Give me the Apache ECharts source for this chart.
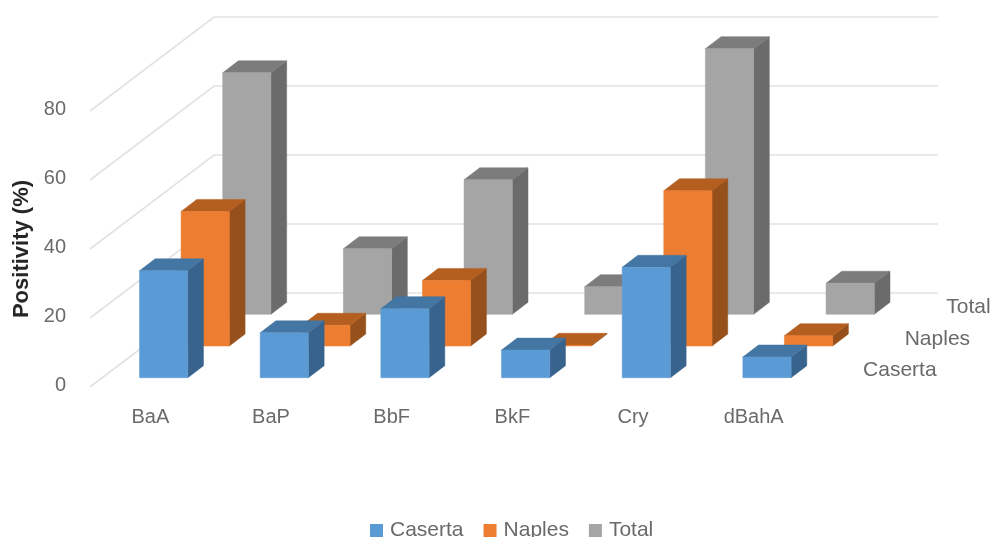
<!DOCTYPE html>
<html>
<head>
<meta charset="utf-8">
<style>html,body{margin:0;padding:0;background:#fff}#chart{width:996px;height:537px}</style>
<script src="https://cdn.jsdelivr.net/npm/echarts@6/dist/echarts.min.js"></script>
</head>
<body>
<div id="chart"></div>
<script>
// Pollutant positivity by area, drawn as a pseudo-3D clustered column chart.
const categories = ['BaA', 'BaP', 'BbF', 'BkF', 'Cry', 'dBahA'];
const caserta = [31, 13, 20, 8, 32, 6];
const naples = [39, 6, 19, 0.2, 45, 3];
const total = [70, 19, 39, 8, 77, 9];
const yTicks = [0, 20, 40, 60, 80];

// Oblique projection of the depth axis, in pixels.
const WALL_DEPTH = [124, -94];
const ROW_START = [13.3, -9.3];
const ROW_STEP = [41.6, -31.7];
const BAR_DEPTH = [15.7, -12];
const FONT = '"Liberation Sans", Arial, sans-serif';
const TEXT = '#6a6a6a';

const rowDefs = [
  { name: 'Caserta', values: caserta, front: '#5B9BD5', top: '#4476A3', side: '#38638C' },
  { name: 'Naples', values: naples, front: '#ED7D31', top: '#B45F20', side: '#95501B' },
  { name: 'Total', values: total, front: '#A5A5A5', top: '#7C7C7C', side: '#6B6B6B' }
];

function rowOffset(row) {
  return [ROW_START[0] + ROW_STEP[0] * row, ROW_START[1] + ROW_STEP[1] * row];
}

function poly(points, fill) {
  return { type: 'polygon', shape: { points: points }, style: { fill: fill, stroke: fill, lineWidth: 0.5 } };
}

function columnRenderer(row) {
  const def = rowDefs[row];
  const off = rowOffset(row);
  return function (params, api) {
    const idx = api.value(0);
    const base = api.coord([idx, 0]);
    const head = api.coord([idx, api.value(1)]);
    const w = api.size([1, 0])[0] * 0.4;
    const l = base[0] - w / 2 + off[0];
    const r = l + w;
    const b = base[1] + off[1];
    const t = head[1] + off[1];
    const dx = BAR_DEPTH[0];
    const dy = BAR_DEPTH[1];
    return {
      type: 'group',
      children: [
        poly([[r, t], [r + dx, t + dy], [r + dx, b + dy], [r, b]], def.side),
        poly([[l, t], [l + dx, t + dy], [r + dx, t + dy], [r, t]], def.top),
        poly([[l, t], [r, t], [r, b], [l, b]], def.front)
      ]
    };
  };
}

// Side wall and back wall lines for each value tick.
function wallRenderer(params, api) {
  const cs = params.coordSys;
  const y = api.coord([0, api.value(1)])[1];
  const x0 = cs.x;
  const x1 = cs.x + cs.width;
  return {
    type: 'polyline',
    shape: { points: [[x0, y], [x0 + WALL_DEPTH[0], y + WALL_DEPTH[1]], [x1 + WALL_DEPTH[0], y + WALL_DEPTH[1]]] },
    style: { fill: null, stroke: '#E2E2E2', lineWidth: 1.6 }
  };
}

// Names along the depth axis, one per row of columns.
function rowLabelRenderer(params, api) {
  const cs = params.coordSys;
  const row = api.value(1);
  const off = rowOffset(row);
  const y = api.coord([0, 0])[1] + off[1] - 7;
  return {
    type: 'text',
    x: cs.x + cs.width + off[0] + 35.8,
    y: y,
    style: {
      text: rowDefs[row].name,
      fill: TEXT,
      fontFamily: FONT,
      fontSize: 21,
      align: 'left',
      verticalAlign: 'middle'
    }
  };
}

const columnSeries = [2, 1, 0].map(function (row) {
  const def = rowDefs[row];
  return {
    type: 'custom',
    name: def.name,
    coordinateSystem: 'cartesian2d',
    renderItem: columnRenderer(row),
    clip: false,
    itemStyle: { color: def.front },
    encode: { x: 0, y: 1 },
    data: def.values.map(function (v, i) { return [i, v]; }),
    z: 5 + (2 - row)
  };
});

const chart = echarts.init(document.getElementById('chart'), null, { renderer: 'canvas' });
chart.setOption({
  animation: false,
  backgroundColor: '#fff',
  grid: { left: 90, width: 724, top: 111, height: 276, containLabel: false, outerBoundsMode: 'none' },
  legend: {
    data: ['Caserta', 'Naples', 'Total'],
    left: 370,
    top: 520,
    icon: 'rect',
    itemWidth: 13,
    itemHeight: 13,
    itemGap: 20,
    padding: 0,
    textStyle: { color: TEXT, fontFamily: FONT, fontSize: 21, padding: [0, 0, 0, 2] }
  },
  xAxis: {
    type: 'category',
    data: categories,
    axisLine: { show: false },
    axisTick: { show: false },
    axisLabel: { color: TEXT, fontFamily: FONT, fontSize: 20, margin: 20 },
    splitLine: { show: false }
  },
  yAxis: {
    type: 'value',
    min: 0,
    max: 80,
    interval: 20,
    axisLine: { show: false },
    axisTick: { show: false },
    splitLine: { show: false },
    axisLabel: { color: TEXT, fontFamily: FONT, fontSize: 20, margin: 24, verticalAlign: 'bottom', lineHeight: 4 },
    name: 'Positivity (%)',
    nameLocation: 'middle',
    nameGap: 54,
    nameTextStyle: { color: '#262626', fontFamily: FONT, fontSize: 22, fontWeight: 'bold' }
  },
  series: [
    {
      type: 'custom',
      coordinateSystem: 'cartesian2d',
      renderItem: wallRenderer,
      clip: false,
      silent: true,
      encode: { x: 0, y: 1 },
      data: yTicks.map(function (v) { return [0, v]; }),
      z: 1
    }
  ].concat(columnSeries, [
    {
      type: 'custom',
      coordinateSystem: 'cartesian2d',
      renderItem: rowLabelRenderer,
      clip: false,
      silent: true,
      encode: { x: 0, y: 2 },
      data: rowDefs.map(function (d, i) { return [0, i, 0]; }),
      z: 10
    }
  ])
});
</script>
</body>
</html>
